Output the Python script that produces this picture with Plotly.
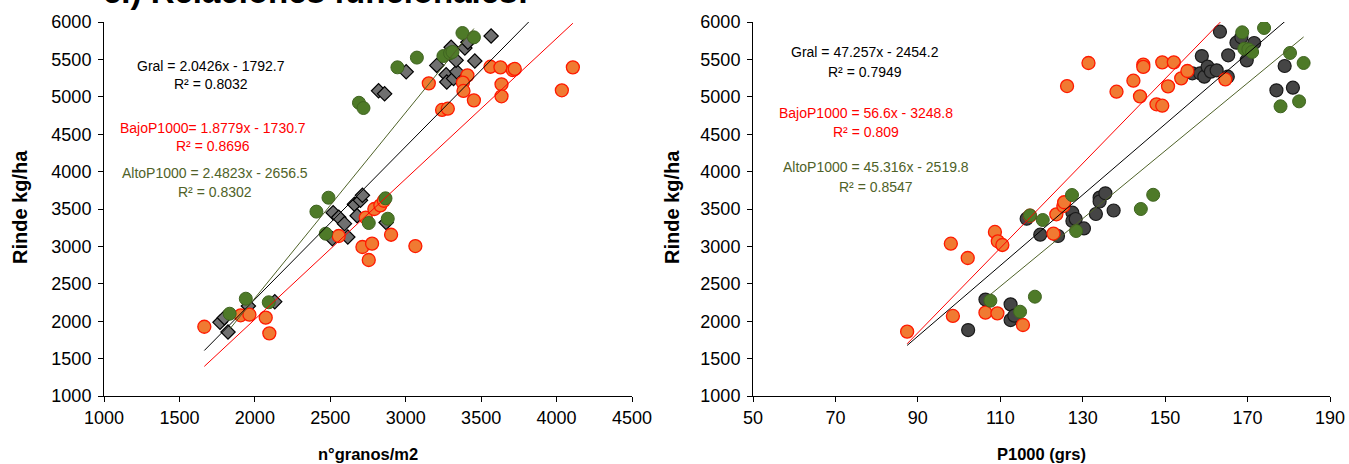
import plotly.graph_objects as go

W, H = 1349, 464
ML, MR, MT, MB = 0, 0, 22, 68

# ---------------- Left chart: n°granos/m2 vs Rinde ----------------
L_bajo_x = [1665, 1906, 1964, 2072, 2096, 2556, 2713, 2777, 2755, 2903, 3064, 2735, 2792, 2832, 2855,
            3153, 3241, 3279, 3409, 3379, 3383, 3452, 3562, 3628, 3635, 3635, 3710, 3723, 4035, 4108]
L_bajo_y = [1926, 2079, 2087, 2047, 1838, 3139, 2992, 3037, 2818, 3156, 3005, 3386, 3500, 3549, 3610,
            5180, 4824, 4841, 5287, 5189, 5078, 4953, 5402, 5394, 5167, 5007, 5358, 5372, 5087, 5394]
L_alto_x = [1833, 1940, 2092, 2408, 2488, 2470, 2755, 2866, 2881, 2690, 2720, 2945, 3074, 3250, 3294, 3310, 3376, 3452]
L_alto_y = [2100, 2301, 2253, 3465, 3651, 3170, 3313, 3643, 3370, 4920, 4850, 5394, 5524, 5545, 5582, 5600, 5853, 5795]
L_med_x = [1769, 1798, 1822, 1957, 2132, 2519, 2556, 2594, 2514, 2616, 2660, 2678, 2700, 2713, 2870,
           2820, 2860, 3003, 3206, 3268, 3272, 3301, 3317, 3339, 3334, 3392, 3412, 3458, 3566]
L_med_y = [1985, 2047, 1856, 2203, 2261, 3451, 3389, 3304, 3103, 3126, 3563, 3410, 3616, 3683, 3320,
           5080, 5040, 5334, 5420, 5295, 5198, 5662, 5244, 5336, 5488, 5652, 5729, 5479, 5813]

# trendline coefficients: Gral, Bajo, Alto
L_slope = [2.0426, 1.8779, 2.4823]
L_inter = [-1792.7, -1730.7, -2656.5]
L_labels = ["Gral = 2.0426x - 1792.7", "BajoP1000= 1.8779x - 1730.7", "AltoP1000 = 2.4823x - 2656.5"]
L_r2 = ["R² = 0.8032", "R² = 0.8696", "R² = 0.8302"]

# ---------------- Right chart: P1000 vs Rinde ----------------
R_bajo_x = [87.4, 98.0, 98.5, 102.1, 106.4, 108.7, 109.3, 109.4, 110.5, 115.5, 117.2, 122.9, 123.6, 125.3, 125.5,
            126.2, 131.4, 138.2, 142.3, 143.9, 144.7, 144.7, 147.9, 149.3, 149.3, 150.7, 152.1, 153.9, 155.4, 164.6]
R_bajo_y = [1860, 3036, 2070, 2845, 2114, 3193, 2105, 3068, 3019, 1949, 3410, 3170, 3429, 3540, 3590,
            5144, 5452, 5068, 5215, 5006, 5430, 5400, 4900, 4881, 5461, 5140, 5461, 5247, 5345, 5233]
R_med_x = [102.2, 106.4, 112.5, 112.5, 113.4, 116.4, 119.7, 124.0, 127.5, 127.5, 128.3, 130.3, 133.2, 134.1, 134.1,
           135.5, 137.5, 156.6, 158.5, 158.9, 159.5, 160.3, 161.1, 162.5, 163.3, 165.2, 165.3, 167.3, 168.5, 169.8,
           171.6, 177.0, 179.0, 181.0]
R_med_y = [1882, 2289, 2225, 2015, 2074, 3370, 3157, 3139, 3451, 3340, 3366, 3240, 3433, 3652, 3600,
           3710, 3480, 5314, 5314, 5545, 5269, 5403, 5336, 5354, 5870, 5269, 5555, 5723, 5795, 5487,
           5719, 5087, 5412, 5122]
R_alto_x = [107.6, 114.8, 118.4, 117.2, 120.3, 127.4, 128.4, 144.1, 147.1, 168.7, 174.0, 169.2, 170.2, 171.1, 180.3, 183.6, 178.0, 182.5]
R_alto_y = [2274, 2127, 2328, 3414, 3353, 3687, 3206, 3500, 3690, 5862, 5920, 5643, 5634, 5599, 5586, 5452, 4873, 4939]

R_slope = [47.257, 56.6, 45.316]
R_inter = [-2454.2, -3248.8, -2519.8]
R_labels = ["Gral = 47.257x - 2454.2", "BajoP1000 = 56.6x - 3248.8", "AltoP1000 = 45.316x - 2519.8"]
R_r2 = ["R² = 0.7949", "R² = 0.809", "R² = 0.8547"]

x_ticks_L = [1000, 1500, 2000, 2500, 3000, 3500, 4000, 4500]
x_ticks_R = [50, 70, 90, 110, 130, 150, 170, 190]
y_ticks = [1000, 1500, 2000, 2500, 3000, 3500, 4000, 4500, 5000, 5500, 6000]

LINE_COLORS = ["#000000", "#FF0000", "#4F6228"]
ARIAL = "Liberation Sans, Arial, sans-serif"

fig = go.Figure()

orange = dict(symbol="circle", size=13, color="#F07A32", line=dict(color="#FF1A00", width=1.3))
green = dict(symbol="circle", size=13, color="#4E7A28", line=dict(color="#3F6420", width=1))
diamond = dict(symbol="diamond", size=11, color="#707070", line=dict(color="#000000", width=1.2))
dark = dict(symbol="circle", size=13, color="#454545", line=dict(color="#1A1A1A", width=1.2))


def add_chart(xa, ya, med_x, med_y, med_marker, bajo_x, bajo_y, alto_x, alto_y, slopes, inters):
    fig.add_trace(go.Scatter(x=med_x, y=med_y, mode="markers", marker=med_marker, xaxis=xa, yaxis=ya))
    fig.add_trace(go.Scatter(x=bajo_x, y=bajo_y, mode="markers", marker=orange, xaxis=xa, yaxis=ya))
    fig.add_trace(go.Scatter(x=alto_x, y=alto_y, mode="markers", marker=green, xaxis=xa, yaxis=ya))
    all_x = med_x + bajo_x + alto_x
    ranges = [(min(all_x), max(all_x)), (min(bajo_x), max(bajo_x)), (min(alto_x), max(alto_x))]
    for (x0, x1), m, b, c in zip(ranges, slopes, inters, LINE_COLORS):
        fig.add_trace(go.Scatter(x=[x0, x1], y=[m * x0 + b, m * x1 + b], mode="lines",
                                 line=dict(color=c, width=1), xaxis=xa, yaxis=ya))


add_chart("x", "y", L_med_x, L_med_y, diamond, L_bajo_x, L_bajo_y, L_alto_x, L_alto_y, L_slope, L_inter)
add_chart("x2", "y2", R_med_x, R_med_y, dark, R_bajo_x, R_bajo_y, R_alto_x, R_alto_y, R_slope, R_inter)

plot_h = H - MT - MB


def px_x(p):
    return p / W


def px_y(p):
    return (H - MB - p) / plot_h


axis_common = dict(showgrid=False, zeroline=False, showline=True, linecolor="#000000", linewidth=1,
                   ticks="outside", ticklen=5, tickcolor="#000000", tickwidth=1, automargin=False,
                   tickfont=dict(family=ARIAL, size=18, color="#000000"))

fig.update_layout(
    width=W, height=H, margin=dict(l=ML, r=MR, t=MT, b=MB, autoexpand=False),
    paper_bgcolor="white", plot_bgcolor="white", showlegend=False,
    xaxis=dict(domain=[px_x(104), px_x(632)], range=[1000, 4500], tickvals=x_ticks_L, anchor="y", **axis_common),
    yaxis=dict(domain=[0, 1], range=[1000, 6000], tickvals=y_ticks, anchor="x", ticklabelstandoff=3, **axis_common),
    xaxis2=dict(domain=[px_x(753), px_x(1330)], range=[50, 190], tickvals=x_ticks_R, anchor="y2", **axis_common),
    yaxis2=dict(domain=[0, 1], range=[1000, 6000], tickvals=y_ticks, anchor="x2", ticklabelstandoff=3, **axis_common),
)

ann = []
EQ_SIZE = 14
L_pos = [(211, 66, 84), (213, 128, 146), (215, 173, 192)]
for (cx, y1, y2), lab, r2, c in zip(L_pos, L_labels, L_r2, LINE_COLORS):
    ann.append(dict(x=px_x(cx), y=px_y(y1), text=lab, font=dict(family=ARIAL, size=EQ_SIZE, color=c)))
    ann.append(dict(x=px_x(cx), y=px_y(y2), text=r2, font=dict(family=ARIAL, size=EQ_SIZE, color=c)))
R_pos = [(865, 52, 72), (866, 113, 132), (876, 167, 187)]
for (cx, y1, y2), lab, r2, c in zip(R_pos, R_labels, R_r2, LINE_COLORS):
    ann.append(dict(x=px_x(cx), y=px_y(y1), text=lab, font=dict(family=ARIAL, size=EQ_SIZE, color=c)))
    ann.append(dict(x=px_x(cx), y=px_y(y2), text=r2, font=dict(family=ARIAL, size=EQ_SIZE, color=c)))

# axis titles
ann.append(dict(x=px_x(20), y=px_y(207), text="<b>Rinde kg/ha</b>", textangle=-90,
                font=dict(family=ARIAL, size=20, color="#000000")))
ann.append(dict(x=px_x(672), y=px_y(207), text="<b>Rinde kg/ha</b>", textangle=-90,
                font=dict(family=ARIAL, size=20, color="#000000")))
ann.append(dict(x=px_x(368), y=px_y(454), text="<b>n°granos/m2</b>",
                font=dict(family=ARIAL, size=16.5, color="#000000")))
ann.append(dict(x=px_x(1041), y=px_y(454), text="<b>P1000 (grs)</b>",
                font=dict(family=ARIAL, size=16.5, color="#000000")))
# title, cut off at the top edge as in the reference
ann.append(dict(x=px_x(315), y=px_y(-8), text="<b>c.) Relaciones funcionales:</b>",
                font=dict(family=ARIAL, size=33, color="#000000")))

for a in ann:
    a.update(xref="paper", yref="paper", showarrow=False, xanchor="center", yanchor="middle")
fig.update_layout(annotations=ann)

fig.write_html("out.html")
